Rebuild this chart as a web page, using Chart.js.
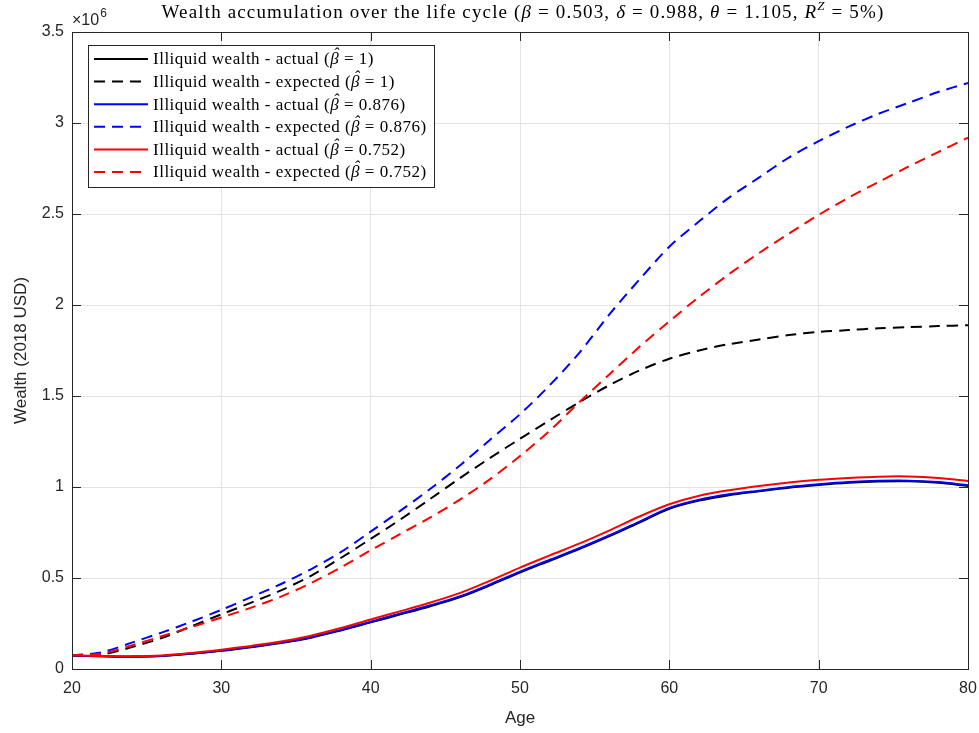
<!DOCTYPE html>
<html lang="en">
<head>
<meta charset="UTF-8">
<title>Wealth accumulation over the life cycle</title>
<script src="https://cdn.jsdelivr.net/npm/chart.js@4"></script>
<style>
  html, body { margin: 0; padding: 0; background: #fff; }
  #wrap { width: 979px; height: 733px; }
</style>
</head>
<body>
<div id="wrap"><canvas id="wealthChart" width="979" height="733"></canvas></div>
<script>
  // ages sampled every two years
  const ages = [20, 22, 24, 26, 28, 30, 32, 34, 36, 38, 40, 42, 44, 46, 48, 50, 52, 54, 56, 58, 60, 62, 64, 66, 68, 70, 72, 74, 76, 78, 80];

  // wealth, in millions of 2018 USD
  const actual1     = [0.073, 0.070, 0.067, 0.071, 0.084, 0.100, 0.120, 0.143, 0.172, 0.212, 0.256, 0.300, 0.345, 0.395, 0.460, 0.530, 0.595, 0.660, 0.730, 0.805, 0.880, 0.925, 0.955, 0.976, 0.996, 1.011, 1.023, 1.030, 1.031, 1.023, 1.006];
  const expected1   = [0.075, 0.080, 0.120, 0.170, 0.235, 0.300, 0.365, 0.432, 0.512, 0.610, 0.715, 0.822, 0.935, 1.050, 1.160, 1.265, 1.367, 1.467, 1.560, 1.640, 1.705, 1.750, 1.785, 1.810, 1.835, 1.852, 1.862, 1.872, 1.878, 1.884, 1.889];
  const actual876   = [0.073, 0.070, 0.068, 0.072, 0.085, 0.102, 0.122, 0.145, 0.175, 0.215, 0.260, 0.305, 0.350, 0.400, 0.465, 0.535, 0.600, 0.665, 0.735, 0.810, 0.885, 0.930, 0.960, 0.980, 1.000, 1.015, 1.027, 1.034, 1.035, 1.027, 1.010];
  const expected876 = [0.075, 0.092, 0.145, 0.200, 0.260, 0.325, 0.395, 0.467, 0.548, 0.642, 0.755, 0.870, 0.990, 1.120, 1.260, 1.400, 1.560, 1.740, 1.950, 2.140, 2.320, 2.460, 2.590, 2.700, 2.810, 2.900, 2.980, 3.050, 3.110, 3.170, 3.220];
  const actual752   = [0.075, 0.072, 0.070, 0.074, 0.088, 0.106, 0.127, 0.151, 0.183, 0.225, 0.272, 0.318, 0.365, 0.418, 0.485, 0.557, 0.624, 0.690, 0.762, 0.838, 0.905, 0.952, 0.982, 1.005, 1.025, 1.040, 1.050, 1.057, 1.058, 1.050, 1.033];
  const expected752 = [0.075, 0.085, 0.130, 0.180, 0.230, 0.283, 0.337, 0.398, 0.472, 0.558, 0.652, 0.743, 0.833, 0.932, 1.043, 1.170, 1.310, 1.468, 1.620, 1.770, 1.910, 2.045, 2.170, 2.285, 2.392, 2.495, 2.590, 2.675, 2.760, 2.840, 2.920];

  const seriesLabels = [
    'Illiquid wealth - actual (β̂ = 1)',
    'Illiquid wealth - expected (β̂ = 1)',
    'Illiquid wealth - actual (β̂ = 0.876)',
    'Illiquid wealth - expected (β̂ = 0.876)',
    'Illiquid wealth - actual (β̂ = 0.752)',
    'Illiquid wealth - expected (β̂ = 0.752)'
  ];
  const seriesValues = [actual1, expected1, actual876, expected876, actual752, expected752];
  const seriesColors = ['#000000', '#000000', '#0000ff', '#0000ff', '#ff0000', '#ff0000'];
  const xTicks = [20, 30, 40, 50, 60, 70, 80];
  const yTicks = [0, 0.5, 1, 1.5, 2, 2.5, 3, 3.5];

  const DASH = [11, 7];
  const AXIS_COLOR = '#262626';
  const SERIF = '"Liberation Serif", "DejaVu Serif", serif';
  const SANS = '"Liberation Sans", Arial, sans-serif';

  const datasets = seriesValues.map((vals, i) => ({
    label: seriesLabels[i],
    data: ages.map((a, k) => ({ x: a, y: vals[k] })),
    borderColor: seriesColors[i],
    borderWidth: 2,
    borderDash: i % 2 === 1 ? DASH : [],
    pointRadius: 0,
    fill: false,
    tension: 0.3,
    order: seriesValues.length - i   // later series drawn on top, like MATLAB
  }));

  // draw text pieces left to right from x, each with its own font
  function drawPieces(ctx, pieces, x, cy, spacing) {
    ctx.letterSpacing = spacing + 'px';
    ctx.textBaseline = 'middle';
    ctx.textAlign = 'left';
    pieces.forEach(p => {
      ctx.font = p.font;
      ctx.fillText(p.t, x, cy + (p.dy || 0));
      const w = ctx.measureText(p.t).width;
      if (p.hat) {
        ctx.save();
        ctx.letterSpacing = '0px';
        ctx.textAlign = 'center';
        ctx.fillText('ˆ', x + w / 2 + 1, cy - 5);
        ctx.restore();
      }
      x += w;
    });
    ctx.letterSpacing = '0px';
  }
  function piecesWidth(ctx, pieces, spacing) {
    ctx.letterSpacing = spacing + 'px';
    let w = 0;
    pieces.forEach(p => { ctx.font = p.font; w += ctx.measureText(p.t).width; });
    ctx.letterSpacing = '0px';
    return w;
  }

  const matlabAxes = {
    id: 'matlabAxes',
    afterDraw(chart) {
      const { ctx, chartArea: ca, scales } = chart;
      ctx.save();

      // inward ticks on all four sides
      ctx.strokeStyle = AXIS_COLOR;
      ctx.lineWidth = 1;
      const tl = 9;
      ctx.beginPath();
      xTicks.forEach(t => {
        const px = Math.round(scales.x.getPixelForValue(t)) + 0.5;
        ctx.moveTo(px, ca.bottom); ctx.lineTo(px, ca.bottom - tl);
        ctx.moveTo(px, ca.top); ctx.lineTo(px, ca.top + tl);
      });
      yTicks.forEach(t => {
        const py = Math.round(scales.y.getPixelForValue(t)) + 0.5;
        ctx.moveTo(ca.left, py); ctx.lineTo(ca.left + tl, py);
        ctx.moveTo(ca.right, py); ctx.lineTo(ca.right - tl, py);
      });
      ctx.stroke();

      // box
      ctx.strokeRect(Math.round(ca.left) + 0.5, Math.round(ca.top) + 0.5,
        Math.round(ca.right - ca.left), Math.round(ca.bottom - ca.top));

      // exponent label
      ctx.fillStyle = AXIS_COLOR;
      ctx.textBaseline = 'alphabetic';
      ctx.textAlign = 'left';
      ctx.font = '16px ' + SANS;
      ctx.fillText('×10', ca.left, 25);
      const w10 = ctx.measureText('×10').width;
      ctx.font = '12px ' + SANS;
      ctx.fillText('6', ca.left + w10 + 1, 17);

      // title
      ctx.fillStyle = '#000';
      const nf = '19px ' + SERIF, itf = 'italic 19px ' + SERIF, sf = 'italic 13px ' + SERIF;
      const title = [
        { t: 'Wealth accumulation over the life cycle (', font: nf },
        { t: 'β', font: itf }, { t: ' = 0.503, ', font: nf },
        { t: 'δ', font: itf }, { t: ' = 0.988, ', font: nf },
        { t: 'θ', font: itf }, { t: ' = 1.105, ', font: nf },
        { t: 'R', font: itf }, { t: 'Z', font: sf, dy: -6 }, { t: ' = 5%)', font: nf }
      ];
      const tw = piecesWidth(ctx, title, 1.15);
      drawPieces(ctx, title, (ca.left + ca.right) / 2 + 3 - tw / 2, 13, 1.15);

      // legend box in the upper-left corner
      const lx = 88, ly = 45, lw = 346, lh = 142;
      ctx.fillStyle = '#fff';
      ctx.fillRect(lx, ly, lw, lh);
      ctx.strokeStyle = AXIS_COLOR;
      ctx.lineWidth = 1;
      ctx.strokeRect(lx + 0.5, ly + 0.5, lw, lh);
      const lf = '17px ' + SERIF, lif = 'italic 17px ' + SERIF;
      chart.data.datasets.forEach((ds, i) => {
        const yc = ly + 14 + i * 22.6;
        ctx.strokeStyle = ds.borderColor;
        ctx.lineWidth = ds.borderWidth;
        ctx.setLineDash(ds.borderDash);
        ctx.beginPath();
        ctx.moveTo(lx + 6, yc); ctx.lineTo(lx + 60, yc);
        ctx.stroke();
        ctx.setLineDash([]);
        ctx.fillStyle = '#000';
        const parts = ds.label.split('β̂');
        drawPieces(ctx, [
          { t: parts[0], font: lf },
          { t: 'β', font: lif, hat: true },
          { t: parts[1], font: lf }
        ], lx + 65, yc + 1, 0.5);
      });

      ctx.restore();
    }
  };

  new Chart(document.getElementById('wealthChart'), {
    type: 'line',
    data: { datasets },
    options: {
      responsive: false,
      animation: false,
      devicePixelRatio: 1,
      layout: { padding: { top: 32, right: 11, left: 0, bottom: 0 } },
      plugins: { legend: { display: false }, title: { display: false }, tooltip: { enabled: false } },
      scales: {
        x: {
          type: 'linear',
          min: 20, max: 80,
          afterFit(scale) { scale.height = 64; scale.paddingLeft = 0; scale.paddingRight = 0; },
          afterBuildTicks(scale) { scale.ticks = xTicks.map(v => ({ value: v })); },
          grid: { color: '#e3e3e3', drawTicks: false },
          border: { display: false },
          ticks: { color: AXIS_COLOR, padding: 10, font: { family: SANS, size: 16 } },
          title: { display: true, text: 'Age', color: AXIS_COLOR, font: { family: SANS, size: 17 }, padding: { top: 5 } }
        },
        y: {
          type: 'linear',
          min: 0, max: 3.5,
          afterFit(scale) { scale.width = 72; },
          afterBuildTicks(scale) { scale.ticks = yTicks.map(v => ({ value: v })); },
          grid: { color: '#e3e3e3', drawTicks: false },
          border: { display: false },
          ticks: { color: AXIS_COLOR, padding: 8, font: { family: SANS, size: 16 }, callback: v => String(v) },
          title: { display: true, text: 'Wealth (2018 USD)', color: AXIS_COLOR, font: { family: SANS, size: 17 }, padding: { top: 11, bottom: 0 } }
        }
      }
    },
    plugins: [matlabAxes]
  });
</script>
</body>
</html>
